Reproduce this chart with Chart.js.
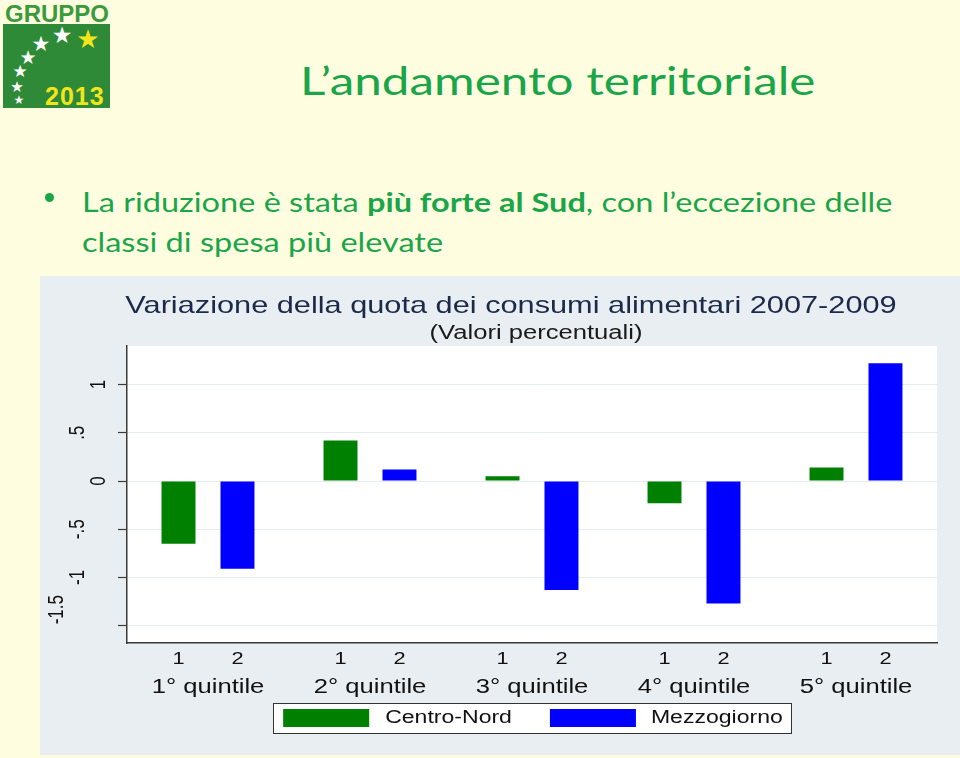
<!DOCTYPE html>
<html lang="it">
<head>
<meta charset="utf-8">
<title>L’andamento territoriale</title>
<script src="https://cdn.jsdelivr.net/npm/chart.js@4.4.1/dist/chart.umd.min.js"></script>
<style>
  html, body { margin: 0; padding: 0; }
  body { width: 960px; height: 758px; background: #FFFDDF; position: relative; overflow: hidden; font-family: Lato, "Open Sans", sans-serif; }
  .logo-top { position: absolute; left: 5px; top: 2px; font: bold 24px/1 "Liberation Sans", Arial, sans-serif; color: #3A9A3C; }
  .logo-box { position: absolute; left: 3px; top: 24px; width: 107px; height: 84px; background: #2E8A37; }
  .star { position: absolute; color: #fff; font-family: "DejaVu Sans", sans-serif; line-height: 1; transform: translate(-50%, -50%); }
  .logo-year { position: absolute; left: 45px; top: 84px; font: bold 25px/1 "Liberation Sans", Arial, sans-serif; color: #F4E41C; letter-spacing: 1px; }
  .titolo { position: absolute; left: 300px; top: 58px; font-size: 38px; line-height: 1.2; color: #1AA549; white-space: nowrap; transform: scaleX(1.3); transform-origin: left top; }
  .bullet { position: absolute; left: 82px; top: 182px; font-size: 26px; line-height: 40px; color: #1AA549; white-space: nowrap; transform: scaleX(1.25); transform-origin: left top; }
  .punto { position: absolute; left: 45px; top: 193px; width: 9px; height: 9px; border-radius: 50%; background: #1AA549; }
  .pannello { position: absolute; left: 40px; top: 276px; width: 920px; height: 479px; background: #E8EEF1; }
  canvas { display: block; }
</style>
</head>
<body>

<div class="logo-top">GRUPPO</div>
<div class="logo-box"></div>
<div class="star" style="left:62px; top:35px; font-size:23px;">★</div>
<div class="star" style="left:41px; top:44px; font-size:21px;">★</div>
<div class="star" style="left:28px; top:57px; font-size:19px;">★</div>
<div class="star" style="left:20px; top:71px; font-size:17px;">★</div>
<div class="star" style="left:17px; top:87px; font-size:15px;">★</div>
<div class="star" style="left:19px; top:100px; font-size:12px;">★</div>
<div class="star" style="left:88px; top:39px; font-size:26px; color:#F4E41C;">★</div>
<div class="logo-year">2013</div>

<div class="titolo">L’andamento territoriale</div>
<div class="punto"></div>
<div class="bullet">La riduzione è stata <b>più forte al Sud</b>, con l’eccezione delle<br>classi di spesa più elevate</div>

<div class="pannello">
  <canvas id="grafico" width="920" height="479"></canvas>
</div>

<script>
// ===== DATI =====
const quintili = ['1° quintile', '2° quintile', '3° quintile', '4° quintile', '5° quintile'];
const serie = ['Centro-Nord', 'Mezzogiorno'];
const codiciSerie = ['1', '2'];
const centroNord = [-0.65, 0.42, 0.05, -0.23, 0.14];
const mezzogiorno = [-0.91, 0.12, -1.13, -1.27, 1.22];
const yTickValori = [-1.5, -1, -0.5, 0, 0.5, 1];
const yTickEtichette = ['-1.5', '-1', '-.5', '0', '.5', '1'];

const titolo = 'Variazione della quota dei consumi alimentari 2007-2009';
const sottotitolo = '(Valori percentuali)';
const colori = ['#008000', '#0000FF'];

// il grafico originale e' stirato in orizzontale
const SX = 1.28;
const FONT = '"Liberation Sans", Arial, sans-serif';

function testo(ctx, str, x, y, size, color, align, rot) {
    ctx.save();
    ctx.translate(x, y);
    ctx.scale(SX, 1);
    if (rot) ctx.rotate(rot);
    ctx.font = size + 'px ' + FONT;
    ctx.fillStyle = color;
    ctx.textAlign = align || 'center';
    ctx.textBaseline = 'middle';
    ctx.fillText(str, 0, 0);
    ctx.restore();
}

function larghezza(ctx, str, size) {
    ctx.save();
    ctx.font = size + 'px ' + FONT;
    const w = ctx.measureText(str).width * SX;
    ctx.restore();
    return w;
}

// ===== PLUGIN STILE STATA =====
const stileStata = {
    id: 'stileStata',
    beforeDraw(chart) {
        const { ctx, chartArea: a } = chart;
        ctx.save();
        ctx.fillStyle = '#FFFFFF';
        ctx.fillRect(a.left, a.top, a.right - a.left, a.bottom - a.top);
        ctx.restore();
    },
    afterDraw(chart) {
        const { ctx, chartArea: a } = chart;
        const xs = chart.scales.x, ys = chart.scales.y;
        const centro = (a.left + a.right) / 2;

        // titoli
        testo(ctx, titolo, 471, 30, 24, '#1B2A4A');
        testo(ctx, sottotitolo, centro + 4, 57, 20, '#1a1a1a');

        // etichette asse y (verticali)
        yTickValori.forEach((v, i) => {
            const lab = yTickEtichette[i];
            const x = 59 - 21 * Math.floor(lab.length / 2);
            // l'ultima etichetta in basso e' rialzata come nell'originale
            const y = ys.getPixelForValue(v) - (lab.length > 3 ? 16 : 0);
            testo(ctx, lab, x, y, 17, '#111', 'center', -Math.PI / 2);
        });

        // 1 / 2 sotto ogni barra
        serie.forEach((s, d) => {
            chart.getDatasetMeta(d).data.forEach(bar => {
                testo(ctx, codiciSerie[d], bar.x, a.bottom + 16, 17, '#111');
            });
        });

        // quintili
        quintili.forEach((q, i) => {
            testo(ctx, q, xs.getPixelForValue(i), a.bottom + 44, 20, '#111');
        });

        // legenda con riquadro
        const fs = 18, sw = 86, sh = 18;
        const w0 = larghezza(ctx, serie[0], fs), w1 = larghezza(ctx, serie[1], fs);
        const tot = 10 + sw + 16 + w0 + 38 + sw + 15 + w1 + 8;
        const lx = centro - tot / 2, ly = a.bottom + 60, lh = 30;
        ctx.save();
        ctx.fillStyle = '#FFFFFF';
        ctx.fillRect(lx, ly, tot, lh);
        ctx.strokeStyle = '#333';
        ctx.lineWidth = 1;
        ctx.strokeRect(Math.round(lx) + 0.5, ly + 0.5, Math.round(tot), lh);
        let x = lx + 10;
        ctx.fillStyle = colori[0];
        ctx.fillRect(x, ly + 6, sw, sh);
        x += sw + 16;
        ctx.restore();
        testo(ctx, serie[0], x, ly + lh / 2, fs, '#111', 'left');
        x += w0 + 38;
        ctx.save();
        ctx.fillStyle = colori[1];
        ctx.fillRect(x, ly + 6, sw, sh);
        ctx.restore();
        x += sw + 15;
        testo(ctx, serie[1], x, ly + lh / 2, fs, '#111', 'left');
    }
};

// ===== GRAFICO =====
const ctx = document.getElementById('grafico').getContext('2d');
new Chart(ctx, {
    type: 'bar',
    data: {
        labels: quintili,
        datasets: [
            { label: serie[0], data: centroNord, backgroundColor: colori[0], borderWidth: 0 },
            { label: serie[1], data: mezzogiorno, backgroundColor: colori[1], borderWidth: 0 }
        ]
    },
    options: {
        responsive: false,
        animation: false,
        devicePixelRatio: 1,
        categoryPercentage: 0.728,
        barPercentage: 0.576,
        layout: { padding: { top: 70, left: 46, right: 23, bottom: 0 } },
        plugins: {
            legend: { display: false },
            title: { display: false },
            tooltip: { enabled: false }
        },
        scales: {
            x: {
                grid: { display: false },
                border: { display: true, color: '#3a3a3a', width: 1.5 },
                ticks: { display: false },
                afterFit: s => { s.height = 112; }
            },
            y: {
                min: -1.68,
                max: 1.40,
                afterBuildTicks: s => { s.ticks = yTickValori.map(v => ({ value: v })); },
                afterFit: s => { s.width = 41; },
                grid: { color: '#E6EDF0', lineWidth: 1, drawTicks: true, tickLength: 9, tickColor: '#3a3a3a', tickWidth: 1.2 },
                border: { display: true, color: '#3a3a3a', width: 1.5 },
                ticks: { display: false }
            }
        }
    },
    plugins: [stileStata]
});
</script>
</body>
</html>
